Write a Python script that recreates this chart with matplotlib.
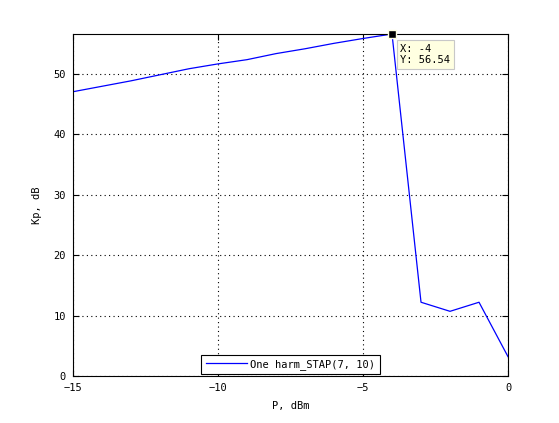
import numpy as np
import matplotlib
matplotlib.use("Agg")
import matplotlib.pyplot as plt

p_dbm = [-15, -14, -13, -12, -11, -10, -9, -8, -7, -6, -5, -4, -3, -2, -1, 0]
kp_db = [47.0, 47.9, 48.8, 49.8, 50.8, 51.6, 52.3, 53.3, 54.1, 55.0, 55.8, 56.54, 12.2, 10.7, 12.2, 3.2]
tip_x, tip_y = -4, 56.54

plt.rcParams['font.family'] = ['DejaVu Sans Mono']
plt.rcParams['font.size'] = 7.5

fig = plt.figure(figsize=(5.59, 4.23), dpi=100)
ax = fig.add_axes([0.1306, 0.111, 0.7782, 0.8086])
ax.plot(p_dbm, kp_db, color='#0000ff', lw=0.9, label='One harm_STAP(7, 10)')
ax.set_xlim(-15, 0)
ax.set_ylim(0, tip_y)
ax.set_xticks([-15, -10, -5, 0])
ax.set_xticklabels(['\u221215', '\u221210', '\u22125', '0'])
ax.set_yticks([0, 10, 20, 30, 40, 50])
ax.grid(True, color='black', linestyle=(0, (1, 3)), lw=0.8)
ax.tick_params(direction='in', length=4, width=0.8, top=True, right=True, pad=5)
for s in ax.spines.values():
    s.set_linewidth(0.8)
ax.set_xlabel('P, dBm', labelpad=6)
ax.set_ylabel('Kp, dB', labelpad=8)

# data tip
ax.plot([tip_x], [tip_y], marker='s', color='black', ms=6, mec='#ffffe1', mew=1, clip_on=False, zorder=5)
ax.annotate('X: -4\nY: 56.54', xy=(tip_x, tip_y), xytext=(6, -7), textcoords='offset points',
            ha='left', va='top', fontsize=7.5,
            bbox=dict(boxstyle='square,pad=0.35', fc='#ffffe1', ec='#c8c8c8', lw=0.8))

leg = ax.legend(loc='lower center', fancybox=False, edgecolor='black', framealpha=1,
                borderpad=0.4, handlelength=4, handletextpad=0.3, borderaxespad=0.2)
leg.get_frame().set_linewidth(0.8)

fig.savefig('out.png', dpi=100)
